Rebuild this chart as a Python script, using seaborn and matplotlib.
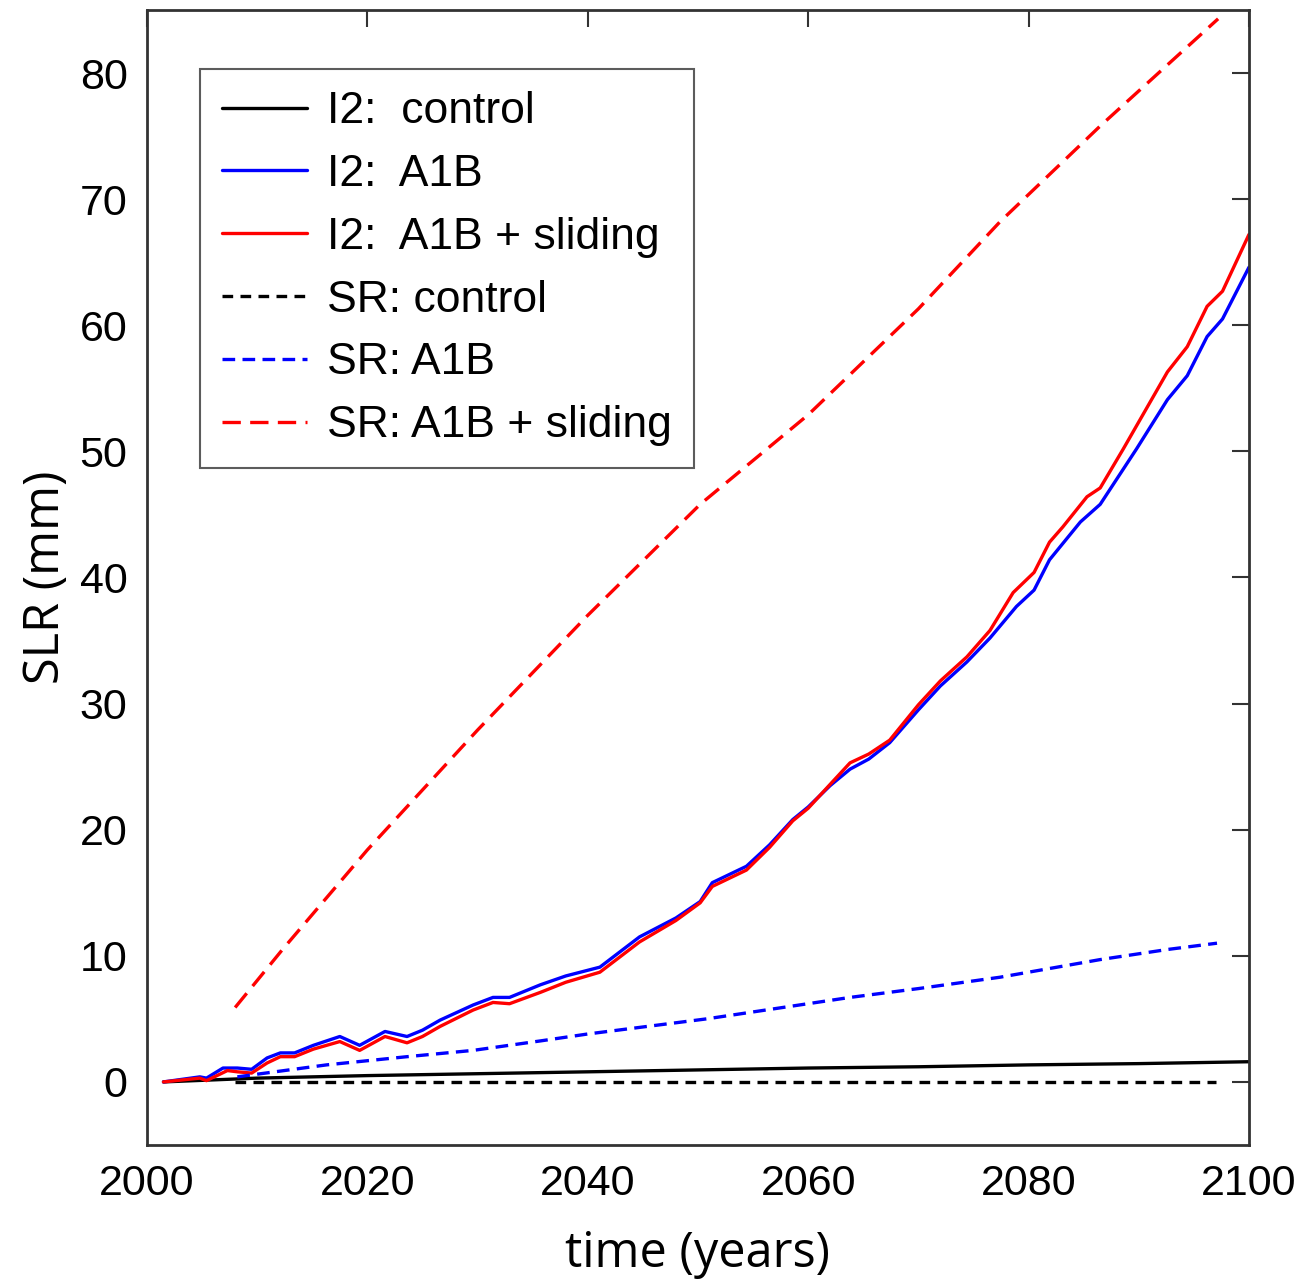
import numpy as np
import pandas as pd
import seaborn as sns
import matplotlib.pyplot as plt

# I2 runs (solid)
i2_ctrl_years = [2001.5, 2010, 2020, 2030, 2040, 2050, 2060, 2070, 2080, 2090, 2100]
i2_ctrl_slr = [0.0, 0.3, 0.5, 0.65, 0.8, 0.95, 1.1, 1.2, 1.35, 1.45, 1.6]

i2_a1b_years = [2001.5, 2004.8, 2005.4, 2006.9, 2008.2, 2009.5, 2010.9, 2012.1, 2013.4, 2015.1,
                2017.5, 2019.3, 2021.6, 2023.6, 2025.0, 2026.6, 2029.6, 2031.4, 2032.9, 2035.7,
                2038.0, 2041.1, 2044.7, 2048.0, 2050.2, 2051.3, 2054.4, 2056.5, 2058.6, 2060.0,
                2062.0, 2063.8, 2065.5, 2067.4, 2070.0, 2072.0, 2074.4, 2076.5, 2078.9, 2080.5,
                2081.9, 2084.7, 2086.5, 2089.8, 2092.6, 2094.4, 2096.2, 2097.6, 2100.0]
i2_a1b_slr = [0.0, 0.4, 0.3, 1.1, 1.1, 1.0, 1.9, 2.3, 2.3, 2.9,
              3.6, 2.9, 4.0, 3.6, 4.1, 4.9, 6.1, 6.7, 6.7, 7.7,
              8.4, 9.1, 11.5, 13.0, 14.3, 15.8, 17.1, 18.8, 20.8, 21.8,
              23.5, 24.8, 25.6, 26.9, 29.5, 31.4, 33.3, 35.2, 37.7, 39.0,
              41.4, 44.4, 45.8, 50.2, 54.1, 56.0, 59.1, 60.5, 64.6]

i2_slide_years = [2001.5, 2004.8, 2005.4, 2007.3, 2008.2, 2009.5, 2010.9, 2012.1, 2013.4, 2015.1,
                  2017.5, 2019.3, 2021.6, 2023.6, 2025.0, 2026.6, 2029.6, 2031.4, 2032.9, 2035.7,
                  2038.0, 2041.1, 2044.7, 2048.0, 2050.2, 2051.3, 2054.4, 2056.5, 2058.6, 2060.0,
                  2062.0, 2063.8, 2065.5, 2067.4, 2070.0, 2072.0, 2074.4, 2076.5, 2078.6, 2080.5,
                  2081.9, 2083.1, 2085.3, 2086.5, 2088.6, 2092.6, 2094.4, 2096.2, 2097.6, 2100.0]
i2_slide_slr = [0.0, 0.3, 0.1, 0.9, 0.8, 0.7, 1.5, 2.0, 2.0, 2.6,
                3.2, 2.5, 3.6, 3.1, 3.6, 4.4, 5.7, 6.3, 6.2, 7.1,
                7.9, 8.7, 11.1, 12.8, 14.2, 15.5, 16.8, 18.6, 20.7, 21.7,
                23.6, 25.3, 26.0, 27.1, 29.9, 31.8, 33.7, 35.8, 38.8, 40.4,
                42.8, 44.0, 46.4, 47.1, 50.2, 56.3, 58.3, 61.5, 62.7, 67.2]

# SR runs (dashed)
sr_ctrl_years = [2008.0, 2097.0]
sr_ctrl_slr = [0.0, 0.0]

sr_a1b_years = [2008.2, 2016.3, 2023.6, 2029.6, 2035.7, 2040.0, 2050.8, 2063.8, 2070.0,
                2077.4, 2086.5, 2092.6, 2097.1]
sr_a1b_slr = [0.4, 1.35, 2.0, 2.5, 3.25, 3.8, 5.0, 6.7, 7.4, 8.3, 9.7, 10.5, 11.0]

sr_slide_years = [2008.0, 2012.3, 2020.0, 2030.0, 2040.0, 2050.2, 2060.0, 2070.0, 2077.4,
                  2086.5, 2097.2]
sr_slide_slr = [5.9, 10.5, 18.4, 27.9, 37.0, 45.8, 52.9, 61.3, 68.2, 75.8, 84.3]

series = [
    ('I2:  control', i2_ctrl_years, i2_ctrl_slr, 'black', None),
    ('I2:  A1B', i2_a1b_years, i2_a1b_slr, '#0000ff', None),
    ('I2:  A1B + sliding', i2_slide_years, i2_slide_slr, '#ff0000', None),
    ('SR: control', sr_ctrl_years, sr_ctrl_slr, 'black', (3.2, 2.2)),
    ('SR: A1B', sr_a1b_years, sr_a1b_slr, '#0000ff', (3.8, 2.2)),
    ('SR: A1B + sliding', sr_slide_years, sr_slide_slr, '#ff0000', (5.5, 2.8)),
]

sns.set_style('white')
plt.rcParams['font.family'] = ['Liberation Sans', 'DejaVu Sans']
plt.rcParams['text.color'] = 'black'
plt.rcParams['axes.labelcolor'] = 'black'
plt.rcParams['xtick.color'] = 'black'
plt.rcParams['ytick.color'] = 'black'

fig = plt.figure(figsize=(13.04, 12.81), dpi=100)
ax = fig.add_axes([0.1127, 0.1062, 0.8451, 0.886])

for label, yrs, vals, color, dash in series:
    df = pd.DataFrame({'year': yrs, 'slr': vals})
    sns.lineplot(data=df, x='year', y='slr', color=color, linewidth=2.4,
                 label=label, ax=ax, estimator=None, sort=False)
    if dash is not None:
        ax.lines[-1].set_dashes(dash)

ax.set_xlim(2000, 2100)
ax.set_ylim(-5, 85)
ax.set_xticks(np.arange(2000, 2101, 20))
ax.set_yticks(np.arange(0, 81, 10))

ax.tick_params(direction='in', length=12, width=1.5, color='#333333',
               labelcolor='black', top=True, right=True, labelsize=31, pad=14)
for sp in ax.spines.values():
    sp.set_visible(True)
    sp.set_color('#333333')
    sp.set_linewidth(2)

ax.set_xlabel('time (years)', fontsize=35, family='Open Sans', labelpad=18)
ax.set_ylabel('SLR (mm)', fontsize=35, family='Open Sans', labelpad=6)

leg = ax.legend(loc='upper left', bbox_to_anchor=(0.048, 0.948), borderaxespad=0,
                fontsize=32, frameon=True, fancybox=False, handlelength=1.9,
                labelspacing=0.49, borderpad=0.5, handletextpad=0.45)
leg.get_frame().set_edgecolor('#333333')
leg.get_frame().set_linewidth(1.5)

fig.savefig('out.png', dpi=100)
